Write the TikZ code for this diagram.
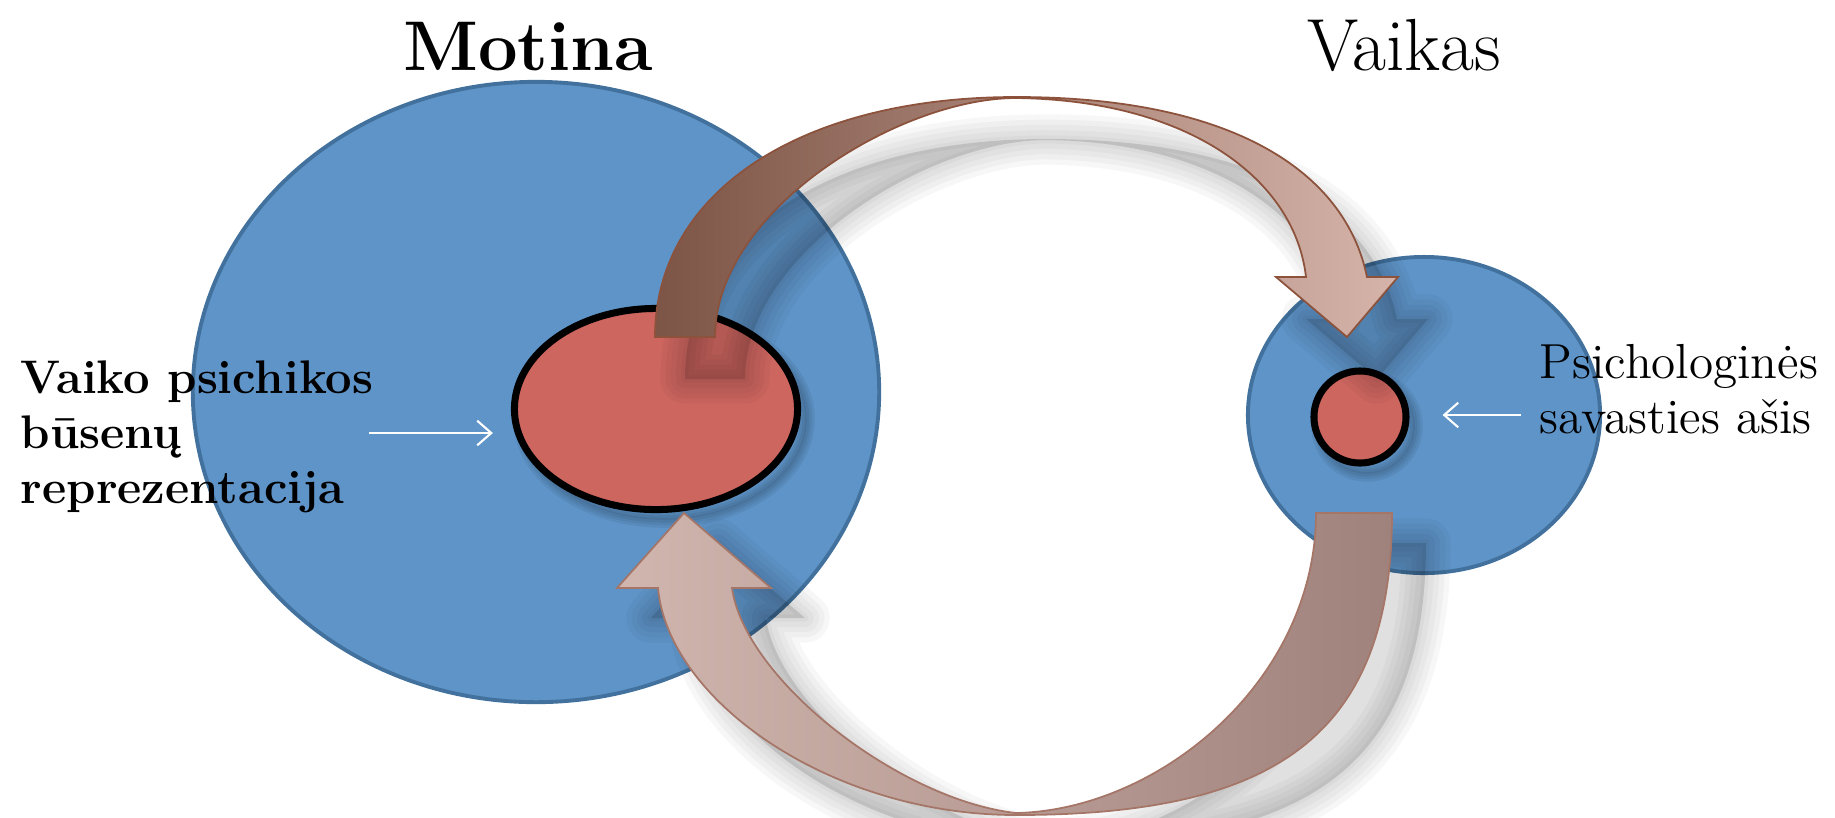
\documentclass[tikz,border=0pt]{standalone}
\usepackage{fontspec}
\usepackage{tikz}
\usetikzlibrary{calc}
\usetikzlibrary{arrows.meta}
\usetikzlibrary{shapes.geometric}

\definecolor{selfblue}{RGB}{94,148,200}
\definecolor{rimblue}{RGB}{65,113,156}
\definecolor{corered}{RGB}{205,102,95}
\definecolor{topdark}{RGB}{125,85,70}
\definecolor{topmid}{RGB}{176,140,128}
\definecolor{toplight}{RGB}{214,180,170}
\definecolor{toprim}{RGB}{140,82,60}
\definecolor{botlight}{RGB}{208,182,174}
\definecolor{botdark}{RGB}{160,130,124}
\definecolor{botrim}{RGB}{165,118,104}

\newcommand{\toparrowpath}{(655,337) .. controls (655,193) and (799,97) .. (1016,97)
  .. controls (1230,97) and (1345,170) .. (1367,277) -- (1398,277) -- (1347,337) -- (1276,277) -- (1306,277)
  .. controls (1295,180) and (1190,100) .. (1016,98) .. controls (900,98) and (715,210) .. (715,337) -- cycle}
\newcommand{\botarrowpath}{(1316,513) -- (1392,513) .. controls (1392,740) and (1270,815) .. (1016,815)
  .. controls (830,815) and (668,700) .. (658,588) -- (617,588) -- (684,513) -- (771,588) -- (732,588)
  .. controls (745,680) and (900,800) .. (1016,813) .. controls (1160,810) and (1316,680) .. (1316,513) -- cycle}

\begin{document}
\begin{tikzpicture}[x=0.01cm,y=-0.01cm]
    \tikzstyle{person}=[ellipse,draw=rimblue,fill=selfblue,line width=1.1pt,inner sep=0pt]
    \tikzstyle{core}=[ellipse,draw=black,fill=corered,line width=2pt,inner sep=0pt]
    \tikzstyle{title}=[anchor=base,inner sep=0pt]
    \tikzstyle{caption}=[anchor=base west,align=left,inner sep=0pt]
    \tikzstyle{pointer}=[-{Straight Barb[length=4pt,width=7pt]},white,line width=0.6pt]
    \tikzstyle{shadow layer}=[draw=black,line join=round,draw opacity=0.03]

    \useasboundingbox (0,0) rectangle (1835,817);

    % Circles
    \node[person,minimum width=6.86cm,minimum height=6.2cm] (motina) at (536,392) {};
    \node[person,minimum width=3.52cm,minimum height=3.16cm] (vaikas) at (1424,415) {};

    \foreach \w in {5pt,3.5pt,2pt,0.5pt}
        \draw[shadow layer,line width=\w,draw opacity=0.06] (664,419) ellipse [x radius=142, y radius=100];
    \node[core,minimum width=2.83cm,minimum height=2.01cm] (repr) at (656,409) {};

    \foreach \w in {5pt,3.5pt,2pt,0.5pt}
        \draw[shadow layer,line width=\w,draw opacity=0.06] (1367,426) ellipse [x radius=47, y radius=47];
    \node[core,minimum width=0.92cm,minimum height=0.92cm] (asis) at (1360,417) {};

    % Shadows of the arrows
    \begin{scope}[shift={(30,42)}]
        \foreach \w in {14pt,11pt,8pt,5pt,2pt}
            \draw[shadow layer,line width=\w] \toparrowpath;
        \fill[black,opacity=0.12] \toparrowpath;
    \end{scope}
    \begin{scope}[shift={(34,30)}]
        \foreach \w in {14pt,11pt,8pt,5pt,2pt}
            \draw[shadow layer,line width=\w] \botarrowpath;
        \fill[black,opacity=0.12] \botarrowpath;
    \end{scope}

    % Arrows
    \path[draw=toprim,line width=0.5pt,left color=topdark,middle color=topmid,right color=toplight] \toparrowpath;
    \path[draw=botrim,line width=0.5pt,left color=botlight,right color=botdark] \botarrowpath;

    % Texts
    \node[title,font=\bfseries\fontsize{20}{24}\selectfont] (motinaTitle) at (528,70) {Motina};
    \node[title,font=\fontsize{21}{25}\selectfont] (vaikasTitle) at (1404,70) {Vaikas};
    \node[caption,font=\bfseries\fontsize{13.4}{15.6}\selectfont] (reprText) at (20,503)
        {Vaiko psichikos\\būsenų\\reprezentacija};
    \node[caption,font=\fontsize{14}{15.6}\selectfont] (asisText) at (1539,433)
        {Psichologinės\\savasties ašis};

    \coordinate (pL) at (369,433);
    \coordinate (pR) at (1521,415);
    \draw[pointer,shorten >=0.18cm] (pL) -- (pL -| repr.west);
    \draw[pointer,shorten >=0.33cm] (pR) -- (pR -| asis.east);

\end{tikzpicture}
\end{document}
